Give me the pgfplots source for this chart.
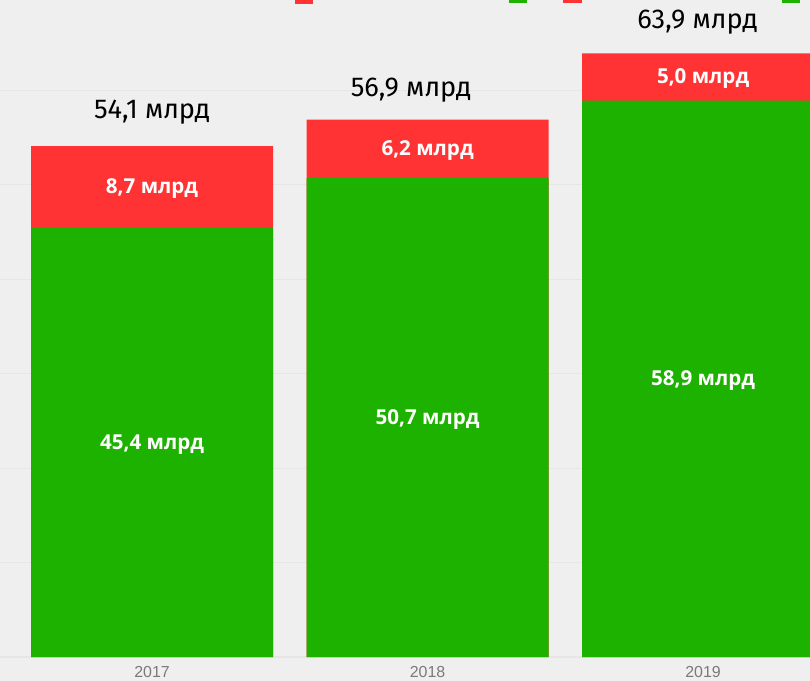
\documentclass[border=0pt]{standalone}
\usepackage{fontspec}
\setmainfont{Fira Sans}
\newfontfamily\labfont{Open Sans}
\newfontfamily\yearfont{Liberation Sans}
\usepackage{pgfplots}
\pgfplotsset{compat=1.18}
\definecolor{bgcol}{HTML}{EFEFEF}
\definecolor{gridcol}{HTML}{E6E6E6}
\definecolor{barred}{HTML}{FF3333}
\definecolor{bargreen}{HTML}{1DB100}
\definecolor{yeargray}{HTML}{7A7A7A}
\begin{document}
\begin{tikzpicture}
\begin{axis}[
  scale only axis,
  width=607.5bp, height=510.75bp,
  xmin=-0.552, xmax=2.388,
  ymin=-2.54, ymax=69.56,
  axis line style={draw=none},
  axis background/.style={fill=bgcol},
  xtick=\empty,
  ytick={0,10,20,30,40,50,60},
  yticklabels={},
  major tick length=0pt,
  ymajorgrids,
  grid style={gridcol, line width=0.8pt},
  clip=true,
]
\coordinate (sw) at (rel axis cs:0,0);
\coordinate (ne) at (rel axis cs:1,1);
% total (red segment on top)
\addplot[ybar, bar shift=0, bar width=0.878, fill=barred, draw=none]
  coordinates {(0,54.1) (1,56.9) (2,63.9)};
% green segment
\addplot[ybar, bar shift=0, bar width=0.878, fill=bargreen, draw=none]
  coordinates {(0,45.4) (1,50.7) (2,58.9)};
% inner labels
\addplot[draw=none, mark=none, nodes near coords, point meta=explicit symbolic,
  nodes near coords align={center},
  every node near coord/.style={anchor=center, text=white, font=\labfont\bfseries\fontsize{15.5}{18}\selectfont}]
  table[meta=lab, col sep=semicolon, row sep=\\] {
  x;y;lab\\
  0;22.5;45,4 млрд\\
  1;25.15;50,7 млрд\\
  2;29.25;58,9 млрд\\
  0;49.6;8,7 млрд\\
  1;53.65;6,2 млрд\\
  2;61.25;5,0 млрд\\
  };
% totals
\addplot[draw=none, mark=none, nodes near coords, point meta=explicit symbolic,
  nodes near coords align={center},
  every node near coord/.style={anchor=center, text=black, font=\fontsize{20.5}{24}\selectfont}]
  table[meta=lab, col sep=semicolon, row sep=\\] {
  x;y;lab\\
  0;57.7;54,1 млрд\\
  0.94;60.0;56,9 млрд\\
  1.98;67.2;63,9 млрд\\
  };
% year labels
\addplot[draw=none, mark=none, nodes near coords, point meta=explicit symbolic,
  nodes near coords align={center},
  every node near coord/.style={anchor=center, text=yeargray, font=\yearfont\fontsize{12}{14}\selectfont}]
  table[meta=lab, col sep=semicolon, row sep=\\] {
  x;y;lab\\
  0;-1.6;2017\\
  1;-1.6;2018\\
  2;-1.6;2019\\
  };
% cut-off legend keys at the top
\fill[barred] (axis cs:0.519,69.14) rectangle (axis cs:0.584,70);
\fill[bargreen] (axis cs:1.296,69.24) rectangle (axis cs:1.361,70);
\fill[barred] (axis cs:1.492,69.24) rectangle (axis cs:1.561,70);
\fill[bargreen] (axis cs:2.286,69.24) rectangle (axis cs:2.352,70);
\end{axis}
\pgfresetboundingbox
\path[use as bounding box] (sw) rectangle (ne);
\end{tikzpicture}
\end{document}
